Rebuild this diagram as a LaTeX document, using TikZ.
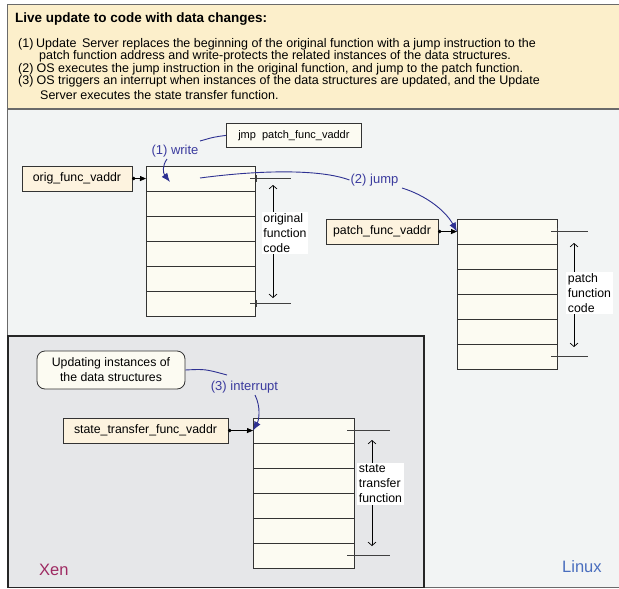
\documentclass[tikz,border=0pt]{standalone}
\usepackage{fontspec}
\setmainfont{Liberation Sans}
\usetikzlibrary{arrows.meta}
\definecolor{hdr}{HTML}{FCEFCB}
\definecolor{linuxbg}{HTML}{F2F4F4}
\definecolor{xenbg}{HTML}{E6E7E9}
\definecolor{cellbg}{HTML}{FCFBF2}
\definecolor{addrbg}{HTML}{FDF3DF}
\definecolor{frame}{HTML}{6A6A6A}
\definecolor{bl}{HTML}{2E3192}
\definecolor{bltext}{HTML}{3B3B9E}
\definecolor{xentext}{HTML}{9E2A62}
\definecolor{linuxtext}{HTML}{4A6EBE}
\newcommand\fsz[2]{\fontsize{#1}{#2}\selectfont}
\tikzset{
  region/.style={draw=frame, line width=1.3},
  addr/.style={draw=black!80, fill=addrbg, line width=0.8, anchor=north west, minimum height=25, inner sep=0, outer sep=0, font=\fsz{12.3}{14}},
  cell/.style={draw=black!80, fill=cellbg, line width=0.8, anchor=north west, minimum height=25.1, inner sep=0, outer sep=0},
  ptr/.style={line width=0.8, {Circle[length=3.5pt]}-{Triangle[length=6pt,width=5pt]}},
  dimline/.style={black!75, line width=0.8},
  dimarrow/.style={black, line width=0.7, {Straight Barb[length=3.5pt,width=8pt]}-{Straight Barb[length=3.5pt,width=8pt]}},
  dimlabel/.style={fill=white, align=left, inner sep=1.5, font=\fsz{12.3}{15}},
  blue line/.style={bl, line width=0.9},
  blue arrow/.style={bl, line width=0.9, -{Latex[length=9pt,width=7pt]}},
  steplabel/.style={text=bltext, inner sep=1, font=\fsz{13}{15}},
  hdrline/.style={anchor=base west, inner sep=0, font=\fsz{12.5}{13}},
}
\begin{document}
\begin{tikzpicture}[x=1pt,y=-1pt]
\useasboundingbox (0,0) rectangle (619,589);
\clip (0,0) rectangle (619,589);
\fill[white] (0,0) rectangle (619,589);
% regions
\draw[region, fill=hdr] (7.5,4.5) rectangle (640,109);
\draw[region, fill=linuxbg] (7.5,109) rectangle (640,587.5);
\draw[region, draw=black!85, fill=xenbg] (8,336) rectangle (424,587.5);
% header text
\node[anchor=base west, inner sep=0, font=\bfseries\fsz{13.5}{15}] (title) at (15,23) {Live update to code with data changes:};
\node[hdrline] (h1) at (18,47) {\makebox[18pt][l]{(1)}Update\ \,Server replaces the beginning of the original function with a jump instruction to the};
\node[hdrline] (h2) at (39,59.5) {patch function address and write-protects the related instances of the data structures.};
\node[hdrline] (h3) at (18,72) {\makebox[18.5pt][l]{(2)}OS executes the jump instruction in the original function, and jump to the patch function.};
\node[hdrline] (h4) at (18,84) {\makebox[18.5pt][l]{(3)}OS triggers an interrupt when instances of the data structures are updated, and the Update};
\node[hdrline] (h5) at (40,99.5) {Server executes the state transfer function.};
% original function
\node[addr, minimum width=110] (orig) at (22,166) {orig\_func\_vaddr};
\foreach \i in {0,...,5} \node[cell, minimum width=109] (o\i) at (146,{166+25.1*\i}) {};
\draw[ptr] (orig.east) -- (o0.west);
\draw[dimline] (250,178.5) -- (291,178.5);
\draw[dimline] (256,175) -- (256,182);
\draw[dimline] (250,303.5) -- (291,303.5);
\draw[dimline] (256,300) -- (256,307);
\draw[dimarrow] (273,185) -- (273,298);
\node[dimlabel] (olab) at (285,233) {original\\function\\code};
% jmp box
\node[draw=black!80, fill=cellbg, line width=0.8, anchor=north west, minimum width=135, minimum height=24, inner sep=0, font=\fsz{11}{13}] (jmp) at (226,123) {jmp\ \ patch\_func\_vaddr};
\node[steplabel] (write) at (175,151) {(1) write};
\coordinate (w1) at (200,141);
\draw[blue line] (jmp.west) .. controls (214,137) .. (w1);
\coordinate (w2) at (167,159);
\coordinate (w3) at (170,182);
\draw[blue arrow] (w2) .. controls (162,166) and (163,173) .. (w3);
% jump
\node[steplabel] (jump) at (374.5,180) {(2) jump};
\coordinate (j1) at (200,178);
\draw[blue line] (j1) .. controls (260,170) and (320,169) .. (jump.west);
\coordinate (j2) at (402,188);
% patch function
\node[addr, minimum width=112] (patch) at (326,219) {patch\_func\_vaddr};
\foreach \i in {0,...,5} \node[cell, minimum width=100] (p\i) at (457,{219+25*\i}) {};
\draw[ptr] (patch.east) -- (p0.west);
\draw[blue arrow] (j2) .. controls (425,195) and (445,210) .. (p0.west);
\draw[dimline] (551,231.5) -- (588,231.5);
\draw[dimline] (557,228) -- (557,235);
\draw[dimline] (551,356.5) -- (588,356.5);
\draw[dimline] (557,353) -- (557,360);
\draw[dimarrow] (574,243) -- (574,347);
\node[dimlabel] (plab) at (589.5,293) {patch\\function\\code};
% Xen part
\node[draw=black!80, fill=cellbg, line width=0.8, rounded corners=8, minimum width=148, minimum height=38, inner sep=0, align=center, font=\fsz{12.3}{15}] (upd) at (111,370) {Updating instances of\\the data structures};
\node[steplabel] (intr) at (244.5,387) {(3) interrupt};
\coordinate (i1) at (227,375);
\draw[blue line] (upd.east) .. controls (205,369) .. (i1);
\coordinate (i2) at (255,395);
\node[addr, minimum width=165] (stv) at (63,418) {state\_transfer\_func\_vaddr};
\foreach \i in {0,...,5} \node[cell, minimum width=101] (s\i) at (253,{418+25.1*\i}) {};
\draw[ptr] (stv.east) -- (s0.west);
\draw[blue arrow] (i2) .. controls (261,407) and (259,420) .. (s0.west);
\draw[dimline] (347,430.5) -- (390,430.5);
\draw[dimline] (347,555) -- (390,555);
\draw[dimarrow] (372,440) -- (372,546);
\node[dimlabel] (slab) at (380.5,484) {state\\transfer\\function};
% region labels
\node[text=xentext, font=\fsz{16.5}{18}, anchor=west, inner sep=0] (xen) at (39,570) {Xen};
\node[text=linuxtext, font=\fsz{16.5}{18}, anchor=west, inner sep=0] (linux) at (562,567) {Linux};
\end{tikzpicture}
\end{document}
